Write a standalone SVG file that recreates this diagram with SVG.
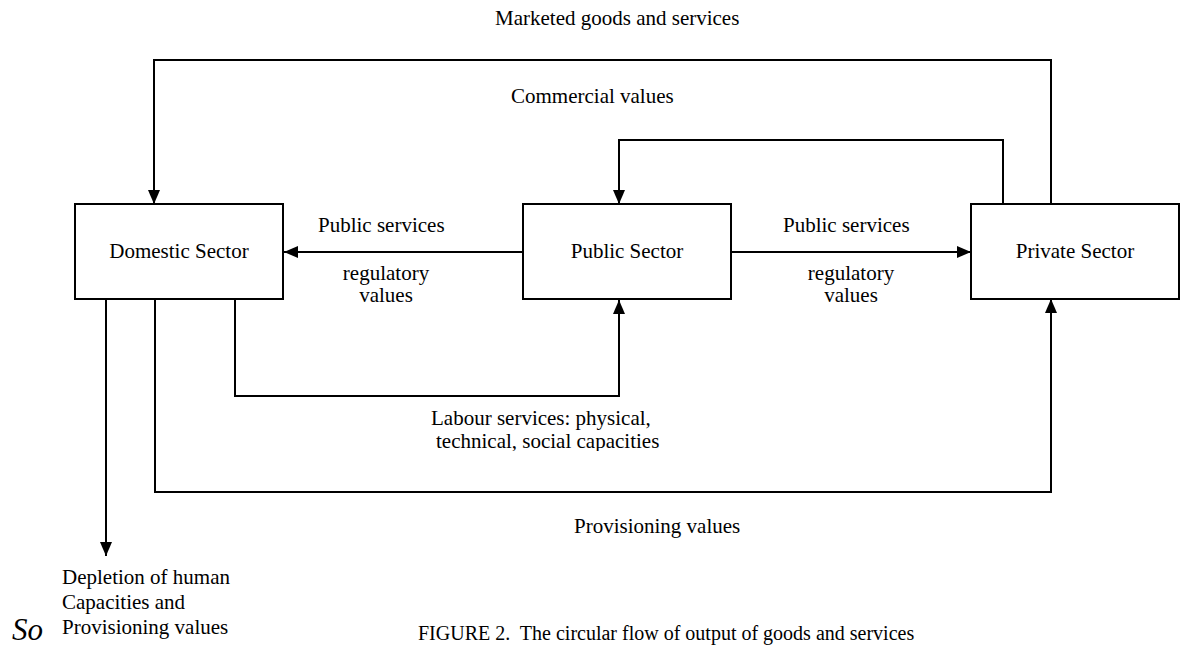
<svg xmlns="http://www.w3.org/2000/svg" width="1183" height="653" viewBox="0 0 1183 653">
  <style>
    text { font-family: "Liberation Serif", "Times New Roman", serif; font-size: 21px; fill: #000; }
    .box { fill: #fff; stroke: #000; stroke-width: 2; }
    .conn { fill: none; stroke: #000; stroke-width: 2; }
    .mid { text-anchor: middle; }
  </style>
  <defs>
    <marker id="arr" viewBox="0 0 14 12" refX="14" refY="6" markerWidth="14" markerHeight="12" markerUnits="userSpaceOnUse" orient="auto">
      <path d="M0,0 L14,6 L0,12 z" fill="#000"/>
    </marker>
    <clipPath id="labclip">
      <rect x="0" y="0" width="1183" height="451"/>
    </clipPath>
  </defs>
  <rect width="1183" height="653" fill="#fff"/>

  <g id="connectors">
    <path class="conn" d="M1051,204 V60 H154 V204" marker-end="url(#arr)"/>
    <path class="conn" d="M1003,204 V140 H619 V204" marker-end="url(#arr)"/>
    <path class="conn" d="M523,252 H284" marker-end="url(#arr)"/>
    <path class="conn" d="M731,252 H971" marker-end="url(#arr)"/>
    <path class="conn" d="M235,299 V396 H619 V300" marker-end="url(#arr)"/>
    <path class="conn" d="M155,299 V492 H1051 V299" marker-end="url(#arr)"/>
    <path class="conn" d="M106,299 V556" marker-end="url(#arr)"/>
  </g>

  <g id="domestic">
    <rect class="box" x="75" y="204" width="208" height="95"/>
    <text class="mid" x="179" y="258">Domestic Sector</text>
  </g>
  <g id="public">
    <rect class="box" x="523" y="204" width="208" height="95"/>
    <text class="mid" x="627" y="258">Public Sector</text>
  </g>
  <g id="private">
    <rect class="box" x="971" y="204" width="208" height="95"/>
    <text class="mid" x="1075" y="258">Private Sector</text>
  </g>

  <g id="labels">
    <text x="495" y="25">Marketed goods and services</text>
    <text x="511" y="103">Commercial values</text>
    <text x="318" y="232">Public services</text>
    <text class="mid" x="386" y="280">regulatory</text>
    <text class="mid" x="386" y="302">values</text>
    <text x="783" y="232">Public services</text>
    <text class="mid" x="851" y="280">regulatory</text>
    <text class="mid" x="851" y="302">values</text>
    <g clip-path="url(#labclip)">
      <text x="431" y="425">Labour services: physical,</text>
      <text x="436" y="448">technical, social capacities</text>
    </g>
    <text x="574" y="533">Provisioning values</text>
    <text x="62" y="584">Depletion of human</text>
    <text x="62" y="609">Capacities and</text>
    <text x="62" y="634">Provisioning values</text>
    <text x="12" y="640" style="font-style:italic;font-size:31px">So</text>
    <text x="418" y="640" style="font-size:20px">FIGURE 2.&#160; The circular flow of output of goods and services</text>
  </g>
</svg>
